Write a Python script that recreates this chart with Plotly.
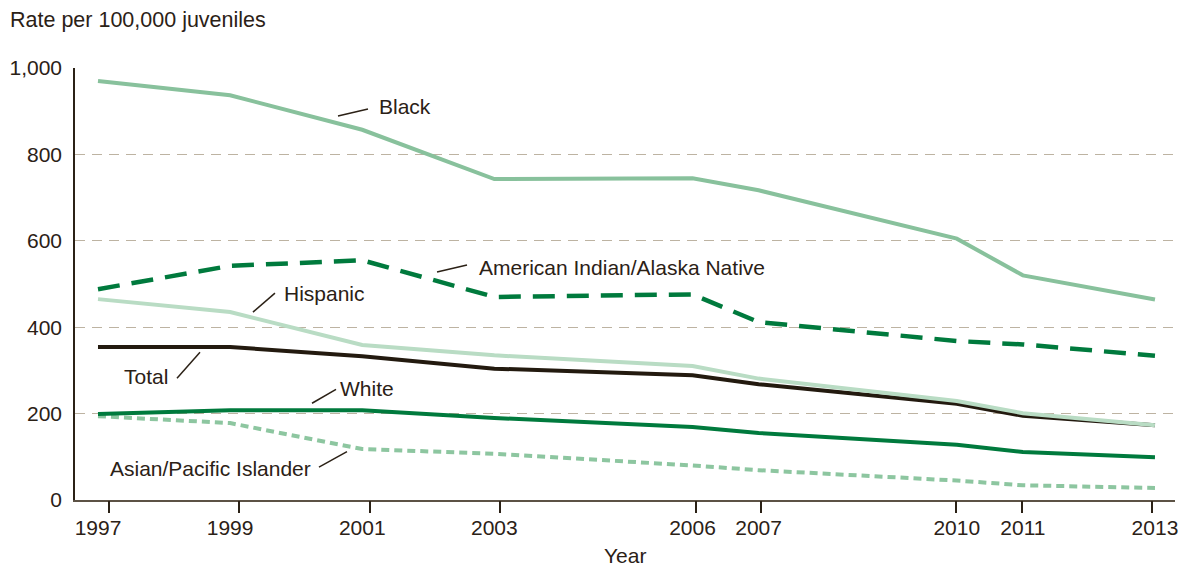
import plotly.graph_objects as go

years = [1997, 1999, 2001, 2003, 2006, 2007, 2010, 2011, 2013]
black = [970, 937, 857, 743, 745, 717, 605, 520, 464]
aian = [488, 542, 555, 470, 476, 412, 368, 360, 334]
hispanic = [465, 435, 359, 335, 310, 281, 229, 201, 173]
total = [354, 354, 333, 304, 289, 268, 223, 195, 173]
white = [199, 208, 208, 190, 169, 155, 128, 111, 99]
asian = [194, 178, 118, 107, 80, 69, 45, 34, 28]

y_ticks = [0, 200, 400, 600, 800, 1000]
y_ticktext = ['0', '200', '400', '600', '800', '1,000']

FONT = 'Liberation Sans, Arial, sans-serif'
TXT = '#2b2116'

fig = go.Figure()

series = [
    ('Asian/Pacific Islander', asian, dict(color='#8dc6a0', width=4, dash='8px,5px')),
    ('White', white, dict(color='#007a3d', width=4)),
    ('Total', total, dict(color='#231a0f', width=4)),
    ('Hispanic', hispanic, dict(color='#b9dcc4', width=4)),
    ('American Indian/Alaska Native', aian, dict(color='#007a3d', width=4.5, dash='22px,12px')),
    ('Black', black, dict(color='#88c19c', width=4)),
]
for name, vals, line in series:
    fig.add_trace(go.Scatter(x=years, y=vals, mode='lines', name=name, line=line,
                             hovertemplate=name + '<br>%{x}: %{y}<extra></extra>'))

# empty trace so the tick-mark axis gets drawn
fig.add_trace(go.Scatter(x=[], y=[], xaxis='x2', showlegend=False, hoverinfo='skip'))

# labels: (text, x, y, anchor, leader start, leader end)
labels = [
    ('Black', 2001.239, 912, 'left', (2000.633, 889), (2001.087, 905)),
    ('American Indian/Alaska Native', 2002.752, 539, 'left', (2002.132, 528), (2002.586, 544)),
    ('Hispanic', 1999.80, 479, 'left', (1999.346, 435), (1999.679, 479)),
    ('Total', 1998.075, 286, 'right', (1998.196, 282), (1998.544, 342)),
    ('White', 2000.648, 259, 'left', (2000.24, 224), (2000.603, 256)),
    ('Asian/Pacific Islander', 2000.24, 73, 'right', (2000.345, 76), (2000.769, 112)),
]
for text, lx, ly, anchor, p0, p1 in labels:
    fig.add_annotation(x=lx, y=ly, text=text, showarrow=False, xanchor=anchor, yanchor='middle',
                       font=dict(family=FONT, size=21, color=TXT), borderpad=0)
    fig.add_shape(type='line', x0=p0[0], y0=p0[1], x1=p1[0], y1=p1[1],
                  line=dict(color=TXT, width=1.5))

fig.add_annotation(text='Rate per 100,000 juveniles', xref='paper', yref='paper',
                   x=-0.061, y=1.111, xanchor='left', yanchor='middle', showarrow=False,
                   font=dict(family=FONT, size=21.5, color=TXT))
fig.add_annotation(text='Year', xref='paper', yref='paper', x=0.5, y=-0.128,
                   xanchor='center', yanchor='middle', showarrow=False, borderpad=0,
                   font=dict(family=FONT, size=21, color=TXT))

# page body has an 8px margin, so the figure is 8px smaller and margins shifted
fig.update_layout(
    width=1179, height=559,
    margin=dict(l=67, r=12, t=60, b=67, autoexpand=False),
    plot_bgcolor='white', paper_bgcolor='white',
    showlegend=False,
    font=dict(family=FONT, size=21, color=TXT),
    xaxis=dict(range=[1996.652, 2013.303], tickvals=years, ticks='', showgrid=False,
               zeroline=False, showline=True, linecolor='#5c5245', linewidth=2,
               ticklabelstandoff=8, tickfont=dict(family=FONT, size=21, color=TXT)),
    xaxis2=dict(overlaying='x', anchor='y', side='bottom', range=[1996.478, 2013.352],
                tickvals=years, ticks='outside', ticklen=12, tickwidth=1.5, tickcolor=TXT,
                showticklabels=False, showgrid=False, zeroline=False, showline=False),
    yaxis=dict(range=[0, 1000], tickvals=y_ticks, ticktext=y_ticktext, ticks='',
               showgrid=True, gridcolor='#bdb3a2', gridwidth=1.3, griddash='10px,7px',
               zeroline=False, showline=True, linecolor=TXT, linewidth=1.5,
               ticklabelstandoff=7, tickfont=dict(family=FONT, size=21, color=TXT)),
)

fig.write_html('out.html')
